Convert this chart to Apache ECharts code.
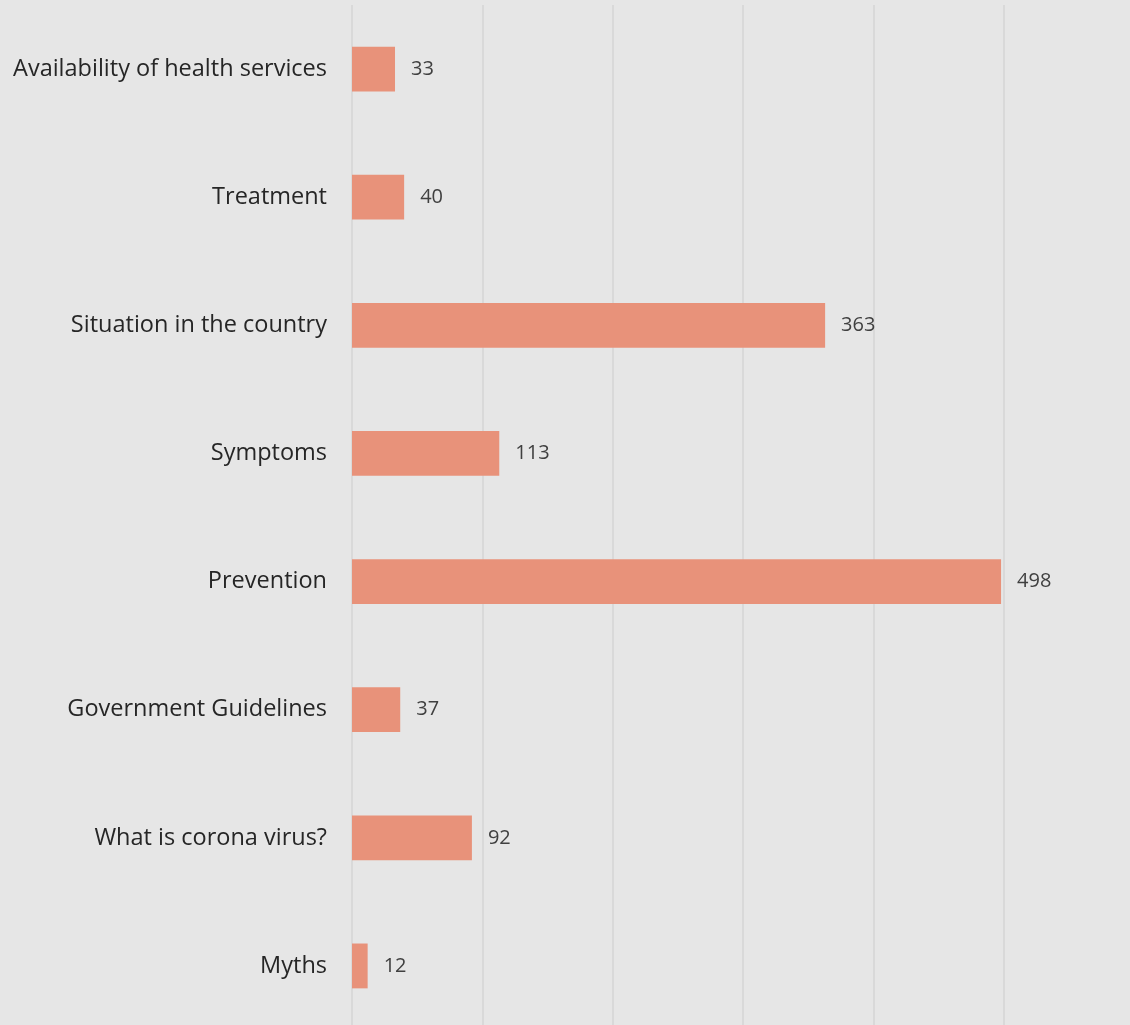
<!DOCTYPE html>
<html>
<head>
<meta charset="utf-8">
<script src="https://cdn.jsdelivr.net/npm/echarts@6/dist/echarts.min.js"></script>
<style>
  html, body { margin: 0; padding: 0; background: #e6e6e6; }
  #chart { width: 1130px; height: 1025px; }
</style>
</head>
<body>
<div id="chart"></div>
<script>
// Topics asked about, top to bottom
const categories = [
  'Availability of health services',
  'Treatment',
  'Situation in the country',
  'Symptoms',
  'Prevention',
  'Government Guidelines',
  'What is corona virus?',
  'Myths'
];
// Number of questions per topic
const counts = [33, 40, 363, 113, 498, 37, 92, 12];

const chart = echarts.init(document.getElementById('chart'));
chart.setOption({
  backgroundColor: '#e6e6e6',
  animation: false,
  // plot area runs slightly past the right and bottom edges of the canvas
  grid: {
    left: 352, width: 782, top: 5, height: 1025,
    containLabel: false,
    outerBoundsMode: 'none'
  },
  xAxis: {
    type: 'value',
    min: 0,
    max: 600,
    interval: 100,
    axisLine: { show: false },
    axisTick: { show: false },
    axisLabel: { show: false },
    splitLine: { show: true, lineStyle: { color: '#d4d4d4', width: 1.5 } }
  },
  yAxis: {
    type: 'category',
    inverse: true,
    data: categories,
    axisLine: { show: false },
    axisTick: { show: false },
    axisLabel: {
      margin: 25,
      color: '#262626',
      fontFamily: 'Open Sans',
      fontSize: 23.5
    }
  },
  series: [{
    type: 'bar',
    data: counts,
    barWidth: '35%',
    itemStyle: { color: '#e8927a' },
    label: {
      show: true,
      position: 'right',
      distance: 16,
      color: '#404040',
      fontFamily: 'Open Sans',
      fontSize: 20
    }
  }]
});
</script>
</body>
</html>
